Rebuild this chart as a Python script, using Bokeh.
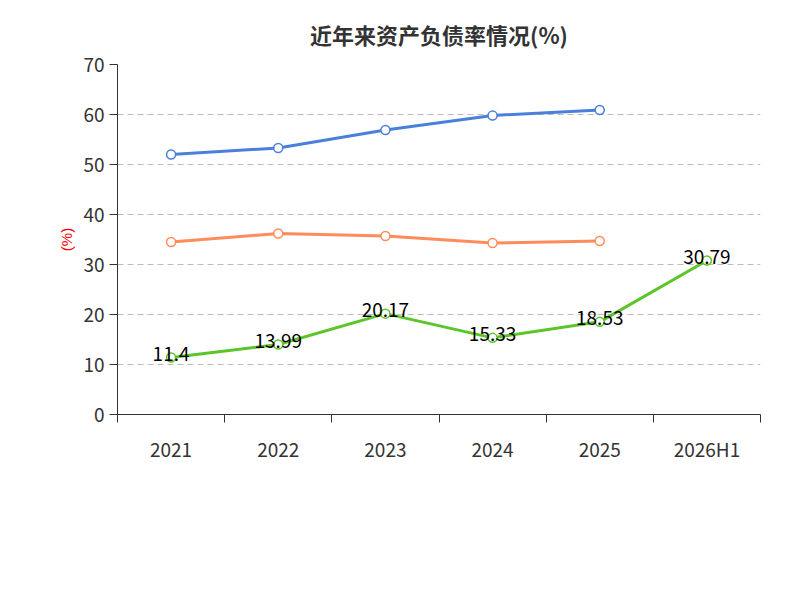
from bokeh.plotting import figure
from bokeh.models import FixedTicker, Legend, LegendItem, Title, ColumnDataSource, Range1d
from bokeh.embed import file_html
from bokeh.resources import INLINE

years = ["2021", "2022", "2023", "2024", "2025", "2026H1"]
company = [11.4, 13.99, 20.17, 15.33, 18.53, 30.79]
industry_avg = [52.0, 53.3, 56.9, 59.8, 60.9]
industry_med = [34.5, 36.2, 35.7, 34.3, 34.7]

F = "Noto Sans CJK SC"
xs = list(range(len(years)))

p = figure(frame_width=643, frame_height=350, output_backend="svg", toolbar_location=None,
           x_range=Range1d(-0.5, 5.5), y_range=Range1d(0, 70),
           min_border_left=117, min_border_right=24, min_border_top=30, min_border_bottom=0)
p.outline_line_color = None
p.title.text = "近年来资产负债率情况(%)"
p.title.align = "center"
p.title.text_font = F
p.title.text_font_size = "22px"
p.title.text_color = "#333333"
p.title.standoff = 30

p.xaxis.ticker = FixedTicker(ticks=xs, minor_ticks=[i - 0.5 for i in range(7)])
p.xaxis.major_label_overrides = {i: y for i, y in enumerate(years)}
p.xaxis.minor_tick_out = 8
p.xaxis.minor_tick_in = 0
p.xaxis.minor_tick_line_color = "#333333"
p.xaxis.major_label_standoff = 12
p.yaxis.ticker = FixedTicker(ticks=list(range(0, 71, 10)))
p.yaxis.major_tick_out = 8
p.yaxis.major_tick_in = 0
p.yaxis.minor_tick_line_color = None
for ax in (p.xaxis, p.yaxis):
    ax.axis_line_color = "#333333"
    ax.major_label_text_font = F
    ax.major_label_text_font_size = "19px"
    ax.major_label_text_color = "#333333"
p.xaxis.major_tick_line_color = None
p.yaxis.major_tick_line_color = "#333333"
p.yaxis.axis_label = "(%)"
p.yaxis.axis_label_text_color = "red"
p.yaxis.axis_label_text_font_size = "15px"
p.yaxis.axis_label_text_font_style = "normal"
p.xgrid.grid_line_color = None
p.ygrid.grid_line_color = "#bbbbbb"
p.ygrid.grid_line_dash = "6 4"

series = [("公司资产负债率", company, "#5cc52a"), ("行业均值", industry_avg, "#4a7fdc"), ("行业中位数", industry_med, "#ff8c5a")]
items = []
for name, vals, col in series:
    src = ColumnDataSource(dict(x=xs[:len(vals)], y=vals))
    l = p.line("x", "y", source=src, line_color=col, line_width=3)
    c = p.scatter("x", "y", source=src, size=9, fill_color="white", line_color=col, line_width=1.5)
    items.append(LegendItem(label=name, renderers=[l, c]))

src = ColumnDataSource(dict(x=xs, y=company, t=[str(v) for v in company]))
p.text("x", "y", text="t", source=src, text_align="center", text_baseline="middle",
       text_font_size="19px", text_font={"value": F}, text_color="black", y_offset=-4)

leg = Legend(items=items, orientation="horizontal", location="center",
             label_text_font=F, label_text_font_size="19px", label_text_color="#333333",
             glyph_width=50, glyph_height=24, spacing=30, border_line_color=None,
             margin=18, padding=0)
p.add_layout(leg, "below")
src_t = Title(text="制图数据来自恒生聚源数据库", align="center", text_font=F,
              text_font_size="15px", text_color="#c8961e", text_font_style="normal",
              standoff=12)
p.add_layout(src_t, "below")

open("out.html", "w").write(file_html(p, INLINE))
